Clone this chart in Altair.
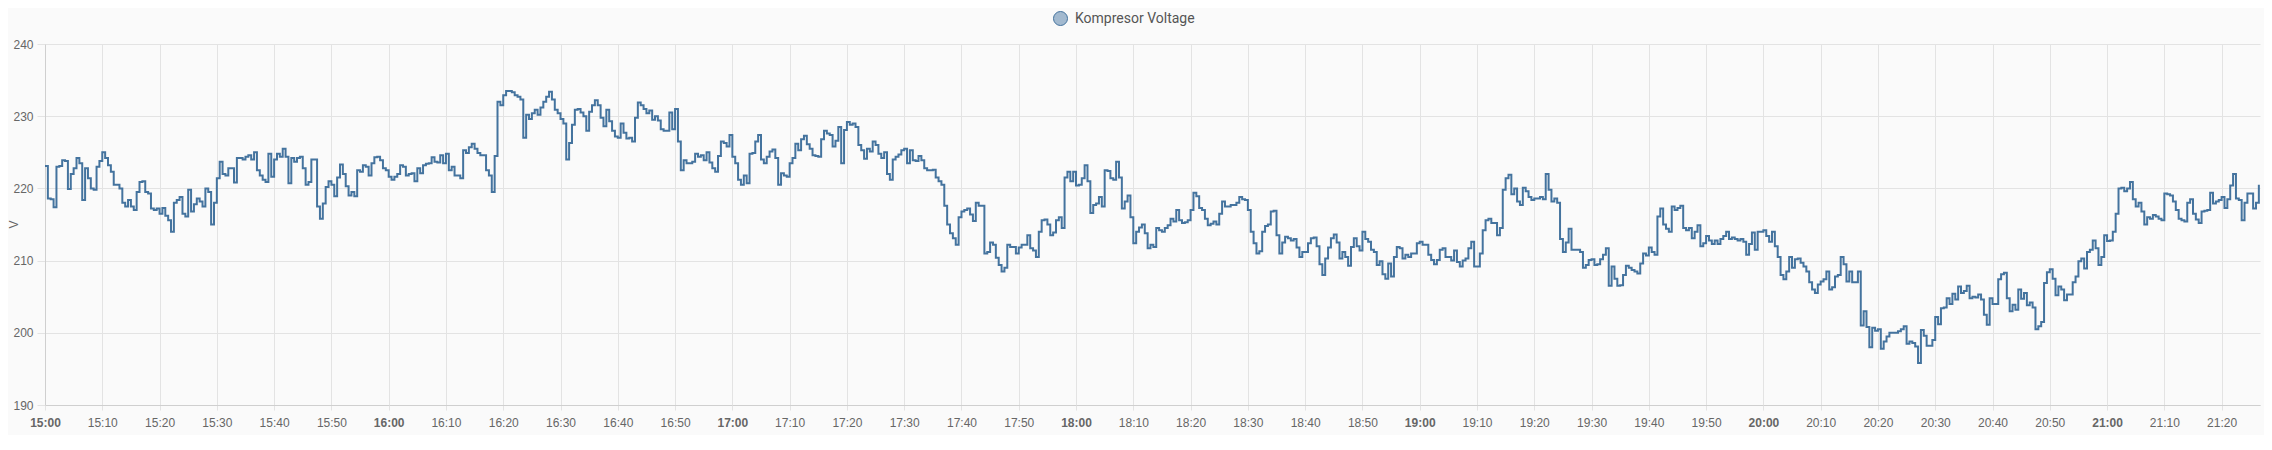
import altair as alt
import pandas as pd

SERIES = "Kompresor Voltage"
DAY = "2024-01-01"
STEP_SECONDS = 30  # sampling interval of the readings below

# readings (V), one every 30 s, per hour block
V_15 = [
    223.1, 218.6, 218.5, 217.4, 223.0, 223.1, 223.9, 223.8, 219.9, 222.0, 222.8, 224.2, 223.5, 218.4, 222.8, 221.4, 220.0, 219.8, 223.0, 223.8,
    225.0, 224.2, 223.2, 222.3, 220.5, 220.5, 220.0, 218.0, 217.5, 218.4, 217.5, 217.0, 219.5, 220.9, 221.0, 219.5, 219.3, 217.2, 217.0, 217.2,
    216.5, 217.3, 216.2, 215.6, 214.0, 218.0, 218.4, 218.8, 216.5, 216.1, 219.8, 216.8, 217.8, 218.6, 218.2, 217.5, 220.0, 219.5, 215.0, 218.0,
    221.4, 223.7, 222.0, 221.8, 222.8, 222.8, 220.8, 224.2, 224.2, 224.0, 224.4, 224.6, 224.0, 225.0, 222.5, 221.8, 221.2, 220.9, 224.8, 221.6,
    224.0, 224.8, 224.4, 225.5, 224.4, 220.7, 224.2, 223.7, 224.2, 224.4, 222.8, 220.5, 220.9, 224.0, 224.0, 217.5, 215.8, 217.9, 220.2, 221.0,
    220.5, 218.9, 221.5, 223.3, 222.0, 220.3, 219.0, 219.5, 218.9, 222.5, 222.3, 223.2, 223.0, 221.8, 223.5, 224.3, 224.4, 223.9, 222.8, 222.5,
]
V_16 = [
    221.6, 221.2, 221.6, 222.0, 223.2, 223.0, 221.8, 222.0, 222.1, 221.0, 222.8, 222.1, 223.2, 223.4, 223.5, 224.3, 223.7, 223.6, 224.6, 223.5,
    224.8, 222.5, 223.0, 221.8, 221.8, 221.4, 225.3, 224.9, 225.7, 226.2, 225.5, 224.9, 224.6, 224.6, 222.5, 221.8, 219.5, 224.5, 232.0, 231.5,
    232.9, 233.5, 233.5, 233.3, 232.9, 232.7, 232.3, 227.0, 230.2, 229.6, 230.4, 230.9, 230.2, 231.2, 232.0, 232.7, 233.4, 232.3, 230.9, 230.4,
    229.6, 229.0, 224.0, 226.3, 228.8, 230.9, 231.0, 230.5, 230.0, 228.0, 230.6, 231.5, 232.2, 231.5, 229.8, 228.6, 230.9, 229.3, 228.0, 227.2,
    227.0, 229.0, 227.7, 226.9, 227.0, 226.5, 229.8, 231.9, 231.5, 231.0, 230.4, 230.8, 229.5, 230.0, 229.4, 228.2, 228.0, 228.0, 230.5, 228.2,
    231.0, 226.5, 222.5, 223.9, 223.5, 223.5, 223.7, 224.8, 224.4, 224.6, 223.9, 225.0, 223.6, 222.8, 222.3, 224.5, 226.5, 226.3, 225.8, 227.4,
]
V_17 = [
    224.4, 223.5, 221.2, 220.5, 221.8, 220.7, 224.8, 224.9, 226.5, 227.4, 224.0, 223.5, 224.4, 225.1, 225.4, 224.2, 220.5, 222.1, 221.8, 221.6,
    223.5, 224.2, 226.2, 225.3, 226.8, 227.3, 226.1, 225.5, 224.6, 224.5, 224.4, 226.8, 228.0, 227.6, 227.4, 225.8, 226.6, 228.5, 223.5, 228.1,
    229.2, 228.8, 229.0, 228.5, 226.0, 225.3, 224.1, 225.5, 225.1, 226.5, 226.0, 224.8, 224.2, 225.0, 222.0, 221.2, 224.0, 224.4, 224.7, 225.3,
    225.5, 223.5, 225.3, 223.9, 223.8, 224.5, 223.9, 222.8, 222.5, 222.5, 222.6, 221.5, 221.0, 220.5, 217.6, 215.0, 213.8, 213.1, 212.2, 216.0,
    216.8, 217.0, 217.2, 216.4, 215.5, 218.0, 217.6, 217.6, 211.0, 211.2, 212.5, 212.2, 210.4, 209.4, 208.5, 209.0, 212.2, 211.9, 211.9, 211.0,
    211.8, 212.2, 212.2, 213.5, 211.7, 211.4, 210.5, 214.0, 215.6, 215.7, 215.0, 213.5, 213.9, 215.6, 216.0, 214.5, 221.5, 222.3, 221.0, 222.3,
]
V_18 = [
    220.4, 220.5, 221.4, 223.2, 221.0, 216.6, 217.7, 217.9, 218.8, 217.5, 222.5, 222.4, 221.4, 221.2, 223.7, 221.5, 217.2, 218.2, 219.0, 216.0,
    212.4, 214.0, 214.6, 215.0, 213.8, 211.7, 212.2, 211.9, 214.5, 214.2, 214.0, 214.5, 214.9, 215.8, 215.4, 217.0, 215.6, 215.2, 215.3, 215.6,
    217.0, 219.4, 218.9, 217.3, 217.0, 215.8, 214.9, 215.1, 215.4, 215.0, 216.5, 218.2, 217.5, 217.5, 217.7, 217.7, 218.0, 218.8, 218.5, 218.4,
    217.0, 214.0, 212.4, 211.0, 211.3, 214.0, 214.8, 215.0, 216.8, 216.9, 213.5, 211.0, 212.5, 213.3, 213.1, 212.8, 213.0, 211.8, 210.5, 211.2,
    211.2, 212.4, 213.1, 213.2, 212.0, 209.5, 208.0, 210.3, 211.8, 213.1, 213.6, 212.5, 210.3, 211.2, 210.5, 209.3, 211.9, 213.1, 212.0, 211.4,
    214.0, 213.0, 212.6, 211.5, 211.2, 209.4, 209.9, 208.1, 207.5, 209.6, 207.8, 210.5, 211.9, 211.7, 210.3, 210.8, 210.5, 211.0, 211.0, 212.4,
]
V_19 = [
    212.6, 212.2, 212.2, 210.8, 210.1, 209.5, 210.1, 211.5, 211.7, 210.5, 210.5, 210.0, 211.4, 209.8, 209.2, 210.0, 210.3, 211.7, 212.6, 209.2,
    209.2, 211.0, 214.2, 215.6, 215.8, 215.2, 215.2, 213.5, 214.5, 219.8, 221.4, 221.9, 219.2, 220.0, 218.2, 217.7, 220.1, 219.6, 218.8, 218.4,
    218.6, 218.6, 218.8, 218.5, 222.0, 219.8, 218.2, 218.6, 218.0, 213.0, 211.2, 212.5, 214.4, 211.5, 211.5, 211.5, 211.2, 209.0, 209.4, 210.1,
    210.2, 209.4, 209.5, 210.2, 210.8, 211.7, 206.5, 209.2, 207.5, 206.5, 206.6, 208.0, 209.3, 209.0, 208.7, 208.5, 208.2, 209.6, 211.0, 210.7,
    211.8, 211.2, 210.8, 216.1, 217.2, 215.0, 214.4, 214.0, 217.5, 217.0, 217.3, 217.6, 214.5, 214.2, 214.5, 213.1, 214.0, 214.9, 212.0, 212.4,
    213.4, 212.8, 212.3, 212.8, 212.3, 213.0, 213.4, 214.0, 213.0, 213.2, 213.0, 212.8, 213.0, 212.6, 210.8, 212.3, 213.9, 211.5, 214.0, 214.0,
]
V_20 = [
    214.2, 213.4, 212.6, 214.0, 212.0, 210.5, 208.0, 207.4, 208.5, 210.5, 209.0, 210.2, 210.3, 209.7, 209.2, 208.5, 207.0, 206.0, 205.5, 206.7,
    207.1, 207.4, 208.5, 206.0, 206.3, 207.8, 208.0, 210.5, 209.5, 207.1, 208.5, 207.0, 207.0, 208.5, 201.0, 203.0, 200.8, 198.0, 200.7, 200.3,
    200.5, 197.8, 198.8, 199.5, 200.0, 200.0, 200.0, 200.2, 200.5, 200.9, 198.5, 198.8, 198.6, 198.1, 195.8, 200.4, 199.6, 198.2, 198.2, 199.0,
    202.2, 201.2, 203.4, 203.5, 204.8, 204.0, 205.4, 204.6, 206.4, 205.5, 205.8, 206.5, 204.8, 205.0, 204.9, 205.3, 204.6, 202.5, 201.1, 204.8,
    204.0, 204.0, 207.4, 208.1, 208.3, 204.8, 203.0, 203.9, 203.2, 206.0, 204.7, 205.5, 203.8, 204.2, 203.5, 200.5, 200.9, 201.5, 206.9, 208.4,
    208.8, 207.5, 205.2, 206.4, 206.0, 204.5, 205.3, 205.3, 207.0, 207.8, 209.9, 210.3, 208.9, 211.2, 211.5, 212.8, 211.7, 209.4, 210.5, 213.5,
]
V_21 = [
    212.7, 212.8, 214.0, 216.5, 220.0, 220.1, 219.6, 220.0, 220.9, 218.5, 217.5, 218.0, 216.8, 215.0, 216.0, 215.8, 216.3, 216.1, 215.8, 215.6,
    219.3, 219.2, 219.0, 218.2, 217.0, 215.8, 215.6, 215.4, 218.0, 218.5, 216.5, 215.7, 215.2, 216.8, 216.9, 217.0, 219.4, 217.9, 218.2, 218.4,
    218.8, 217.3, 218.5, 220.4, 222.0, 218.6, 218.4, 215.6, 218.0, 219.3, 219.3, 217.2, 218.0, 220.5,
]

HOUR_BLOCKS = [(15, V_15), (16, V_16), (17, V_17), (18, V_18), (19, V_19), (20, V_20), (21, V_21)]

Y_TICKS = [190, 200, 210, 220, 230, 240]
X_TICKS = [(h, m) for h in range(15, 22) for m in range(0, 60, 10) if (h, m) <= (21, 20)]
X_TICKS_MINOR = [(h, m) for h, m in X_TICKS if m != 0]
X_TICKS_HOUR = [(h, m) for h, m in X_TICKS if m == 0]

rows = []
for hour, vals in HOUR_BLOCKS:
    base = pd.Timestamp(f"{DAY} {hour:02d}:00:00")
    for i, v in enumerate(vals):
        t = base + pd.Timedelta(seconds=STEP_SECONDS * i)
        rows.append({"time": t.strftime("%Y-%m-%dT%H:%M:%S"), "value": v, "series": SERIES})
df = pd.DataFrame(rows)

FONT = "Liberation Sans"
GRID = "#e3e3e3"
LINE = "#44739e"


def dt(h, m, s=0):
    return alt.DateTime(year=2024, month=1, date=1, hours=h, minutes=m, seconds=s)


def x_axis(ticks, weight, domain):
    return alt.Axis(
        orient="bottom",
        format="%H:%M",
        values=[dt(h, m) for h, m in ticks],
        title=None,
        grid=True,
        gridColor=GRID,
        domain=domain,
        domainColor="#cfcfcf",
        tickColor=GRID,
        tickSize=5,
        labelPadding=7,
        labelFont=FONT,
        labelFontSize=12,
        labelFontWeight=weight,
        labelColor="#666666",
        labelFlush=False,
        labelOverlap=False,
    )


y_axis = alt.Axis(
    orient="left",
    values=Y_TICKS,
    title="V",
    titleFont=FONT,
    titleFontSize=12,
    titleFontWeight="normal",
    titleColor="#666666",
    titleX=-25,
    titleY=180,
    grid=True,
    gridColor=GRID,
    domainColor="#cfcfcf",
    tickColor=GRID,
    tickSize=8,
    labelPadding=4,
    labelFont=FONT,
    labelFontSize=12,
    labelColor="#666666",
)

x_scale = alt.Scale(domain=[dt(15, 0, 0), dt(21, 26, 42)], nice=False)
y_scale = alt.Scale(domain=[190, 240], nice=False, zero=False)

base = alt.Chart(df)

line = base.mark_line(interpolate="step-after", strokeWidth=2).encode(
    x=alt.X("time:T", scale=x_scale, axis=x_axis(X_TICKS_MINOR, "normal", True)),
    y=alt.Y("value:Q", scale=y_scale, axis=y_axis),
    color=alt.Color(
        "series:N",
        scale=alt.Scale(range=[LINE]),
        legend=alt.Legend(
            title=None,
            orient="none",
            legendX=1008,
            legendY=-33,
            symbolType="circle",
            symbolSize=196,
            symbolFillColor="#a2b9cf",
            symbolStrokeColor=LINE,
            symbolStrokeWidth=1,
            labelFont="Roboto",
            labelFontSize=14,
            labelColor="#555555",
            labelOffset=7,
        ),
    ),
)

# invisible copy carrying the bold hour labels on a second bottom axis
hour_axis_layer = base.mark_line(opacity=0).encode(
    x=alt.X("time:T", scale=x_scale, axis=x_axis(X_TICKS_HOUR, "bold", False)),
    y=alt.Y("value:Q", scale=y_scale, axis=y_axis),
)

chart = alt.layer(line, hour_axis_layer).resolve_axis(x="independent").properties(
    width=2215,
    height=361,
    autosize=alt.AutoSizeParams(type="none"),
    padding={"left": 37, "top": 36, "right": 4, "bottom": 30},
).configure(
    background="#fafafa",
).configure_view(
    strokeWidth=0,
)

chart.save("out.html", embed_options={"renderer": "svg", "actions": False})
